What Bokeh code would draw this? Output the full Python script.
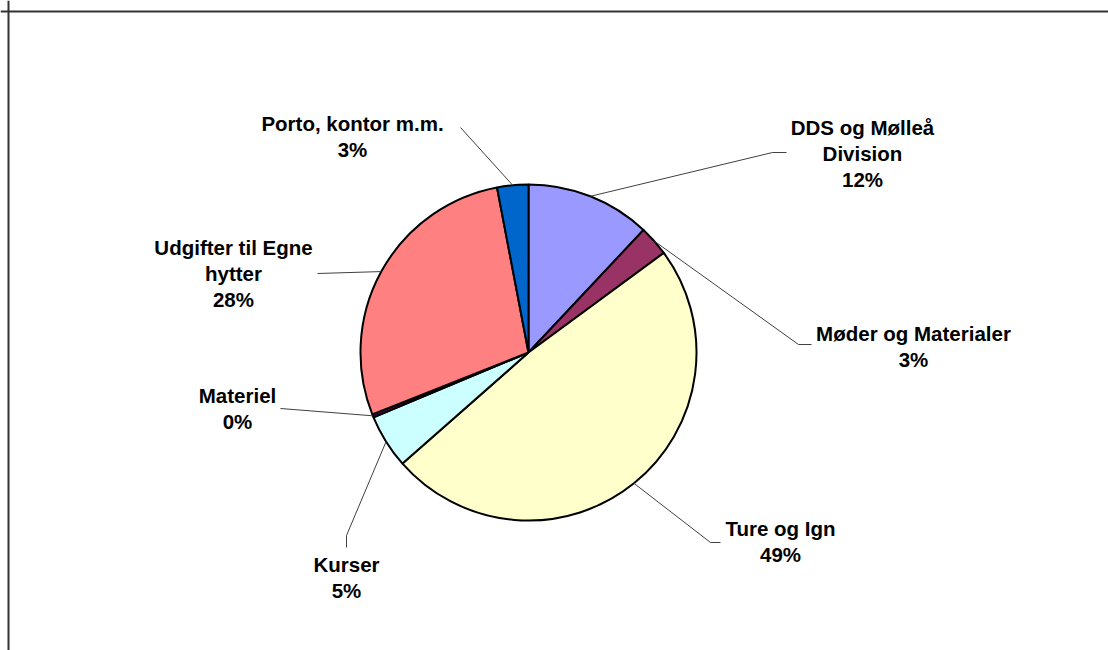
import math
from bokeh.plotting import figure
from bokeh.models import ColumnDataSource, Span
from bokeh.core.properties import value
from bokeh.embed import file_html
from bokeh.resources import INLINE

# ---- data ----
categories = ["DDS og Mølleå\nDivision", "Møder og Materialer", "Ture og Ign", "Kurser",
              "Materiel", "Udgifter til Egne\nhytter", "Porto, kontor m.m."]
shares = [12.0, 2.9, 48.6, 5.2, 0.3, 28.0, 3.0]
colors = ["#9999FF", "#993366", "#FFFFCC", "#CCFFFF", "#660066", "#FF8080", "#0066CC"]

# ---- layout (screen pixels) ----
W, H = 1108, 650
def dx(px):
    return px
def dy(py):
    return H - py

cx, cy, R = 528, 352, 168
label_pos = [(862, 153), (913, 346), (780, 541), (346, 577), (237, 408), (233, 273), (352, 136)]
leader_elbow = [(772, 152), (798, 344), (710, 542), (346, 535), (280, 408), (317, 273), (460, 127)]
leader_end = [(786, 152), (811, 344), (720, 542), (346, 547), (280, 408), (317, 273), (460, 127)]

total = sum(shares)
starts, ends, mids = [], [], []
acc = 0.0
for s in shares:
    a0 = acc / total
    acc += s
    a1 = acc / total
    starts.append(math.pi / 2 - a0 * 2 * math.pi)
    ends.append(math.pi / 2 - a1 * 2 * math.pi)
    mids.append((a0 + a1) / 2)

p = figure(width=W, height=H, x_range=(0, W), y_range=(0, H),
           x_axis_type=None, y_axis_type=None, toolbar_location=None,
           output_backend="svg", min_border=0)
p.grid.visible = False
p.outline_line_color = None
p.background_fill_color = "white"

src = ColumnDataSource(dict(x=[dx(cx)] * len(shares), y=[dy(cy)] * len(shares),
                            start=starts, end=ends, color=colors))
p.wedge(x="x", y="y", radius=R, start_angle="start", end_angle="end", direction="clock",
        fill_color="color", line_color="black", line_width=2, source=src)

# leader lines
xs, ys = [], []
for m, e1, e2 in zip(mids, leader_elbow, leader_end):
    ang = m * 2 * math.pi
    sx = cx + R * math.sin(ang)
    sy = cy - R * math.cos(ang)
    xs.append([dx(sx), dx(e1[0]), dx(e2[0])])
    ys.append([dy(sy), dy(e1[1]), dy(e2[1])])
p.multi_line(xs, ys, line_color="#404040", line_width=1)

labels = [f"{c}\n{round(s / total * 100):d}%" for c, s in zip(categories, shares)]
p.text(x=[dx(a) for a, b in label_pos], y=[dy(b) for a, b in label_pos], text=labels,
       text_align="center", text_baseline="middle", text_font=value("Liberation Sans"),
       text_font_style="bold", text_font_size="20.5px", text_line_height=1.13, text_color="black")

p.add_layout(Span(location=dx(8), dimension="height", line_color="#333333", line_width=2))
p.add_layout(Span(location=dy(11), dimension="width", line_color="#333333", line_width=2))

open("out.html", "w").write(file_html(p, INLINE))
